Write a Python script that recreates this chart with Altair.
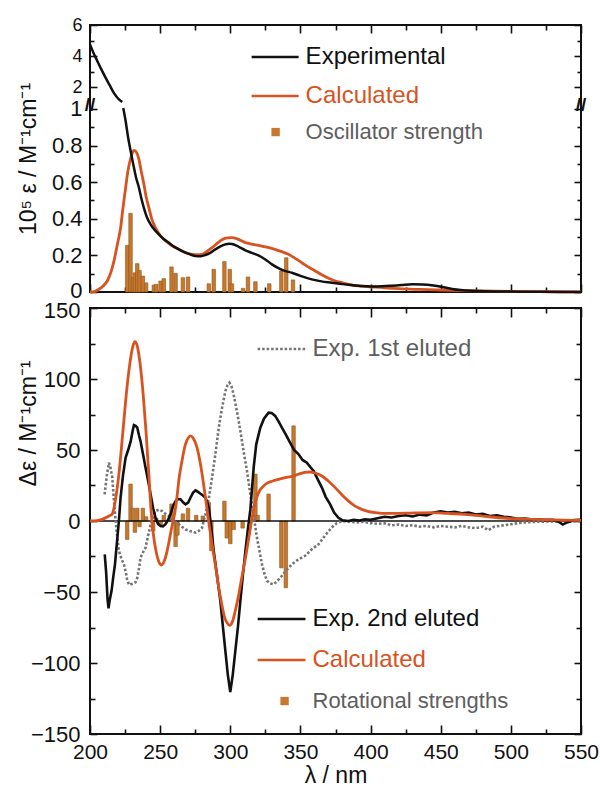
import json
import altair as alt
import pandas as pd

# ---------------- data: top panel (UV absorption) ----------------
uv_exp_hi_wl = [200, 202.5, 205, 208, 211, 214, 217, 220, 223]
uv_exp_hi = [4.75, 4.2, 3.72, 3.15, 2.62, 2.12, 1.62, 1.26, 1.03]

uv_exp_lo_wl = [223.7, 225.4, 227.2, 229, 231.3, 233, 234.9, 236.5, 238.4, 240.5,
                243.2, 246, 249, 252.5, 256, 260.5, 265.7, 270, 275, 279,
                282.3, 286, 289.4, 293, 296.5, 299, 301.2, 304, 307, 310.8,
                315, 320, 325, 329.7, 335, 340, 343.9, 350, 358.1, 365,
                372.4, 380, 386.6, 393, 400, 408, 415, 422, 430, 437,
                445, 452, 458, 466, 477, 490, 505, 520, 535, 550]
uv_exp_lo = [1.005, 0.934, 0.843, 0.77, 0.68, 0.62, 0.57, 0.515, 0.46, 0.41,
             0.37, 0.34, 0.315, 0.29, 0.27, 0.245, 0.224, 0.21, 0.197, 0.196,
             0.202, 0.215, 0.233, 0.249, 0.26, 0.264, 0.262, 0.255, 0.243, 0.228,
             0.215, 0.2, 0.178, 0.151, 0.128, 0.113, 0.105, 0.088, 0.069, 0.058,
             0.051, 0.043, 0.038, 0.033, 0.03, 0.031, 0.034, 0.038, 0.042, 0.041,
             0.035, 0.026, 0.016, 0.009, 0.005, 0.003, 0.002, 0.001, 0.0, 0.0]

uv_calc_wl = [200, 203, 206.4, 209, 212.3, 215, 217.1, 219.5, 221.8, 223.5,
              225.4, 227, 229, 231.3, 233, 234.9, 236.5, 238.4, 240, 242,
              244, 246.7, 250, 253.8, 258, 263.3, 268, 272.8, 276, 279.9,
              283, 287, 291, 294.1, 298, 301.2, 305, 310.8, 315, 320,
              326, 331.9, 336, 341.5, 346, 351, 355.5, 360.5, 365, 370,
              375, 379.5, 385, 391.4, 397, 403.3, 410, 420, 435, 450,
              465, 480, 500, 520, 550]
uv_calc = [0.0, 0.002, 0.015, 0.03, 0.06, 0.11, 0.17, 0.26, 0.35, 0.46,
           0.57, 0.66, 0.73, 0.774, 0.765, 0.725, 0.66, 0.59, 0.52, 0.46,
           0.4, 0.35, 0.31, 0.28, 0.255, 0.233, 0.215, 0.206, 0.204, 0.206,
           0.22, 0.242, 0.268, 0.286, 0.296, 0.297, 0.29, 0.27, 0.262, 0.255,
           0.245, 0.233, 0.222, 0.206, 0.185, 0.16, 0.137, 0.115, 0.095, 0.075,
           0.06, 0.051, 0.04, 0.033, 0.03, 0.027, 0.023, 0.018, 0.014, 0.011,
           0.008, 0.006, 0.003, 0.002, 0.001]

osc_pts = [(226.5, 0.255), (228.9, 0.43), (230.6, 0.078), (232.0, 0.105), (233.7, 0.155),
           (235.3, 0.118), (237.7, 0.087), (240.0, 0.05), (245.5, 0.038), (247.2, 0.042),
           (250.3, 0.06), (252.6, 0.073), (258.1, 0.137), (261.0, 0.102), (266.2, 0.078),
           (269.9, 0.082), (284.7, 0.045), (288.2, 0.124), (295.8, 0.166), (299.6, 0.124),
           (301.2, 0.045), (309.1, 0.02), (312.6, 0.082), (317.9, 0.056), (327.8, 0.045),
           (336.4, 0.115), (339.9, 0.187), (344.7, 0.066)]

# ---------------- data: bottom panel (ECD) ----------------
cd_calc_pts = [(200, 0), (205, 0.3), (208, 1), (211, 2.2), (213.5, 3.5), (215.9, 5), (218, 14),
               (220.6, 33), (223, 58), (225.4, 84.5), (227.5, 104), (229.5, 118), (231, 124.5),
               (232, 126.3), (233.5, 124), (235, 116), (236.5, 104), (238, 88), (240, 62),
               (242, 32), (243.5, 8), (245, -8), (247, -21), (249, -28.5), (251, -31), (253, -28),
               (255, -21), (257, -11), (259, -1), (260.5, 6), (262, 17), (263.5, 30), (265.5, 42),
               (268, 54), (270, 58.5), (271.6, 59.9), (273.5, 58.5), (276.3, 51.6), (278, 44),
               (279.9, 33), (281.5, 22), (283.5, 8), (285, -3), (287, -16.4), (289.5, -32),
               (291.8, -47), (294, -59), (296, -68), (297.7, -71.6), (299.5, -73.5), (301.5, -71),
               (303.6, -63), (306, -52), (307.8, -42), (309.5, -33), (311, -25), (312.5, -16),
               (314, -7), (315.5, 2), (317, 10), (319, 17), (321, 21.5), (322.6, 23.5), (326, 26.5),
               (329.7, 28), (335, 29.5), (339.2, 30.5), (344, 31.5), (348.7, 33), (353, 34.2),
               (357, 34.5), (361, 33.6), (365.3, 31.7), (370, 28), (374.8, 23.5), (379.5, 18.5),
               (384.3, 14), (389, 10.5), (393.7, 8.2), (398, 6.8), (403.3, 5.9), (412.7, 5.3),
               (425, 5.5), (443.6, 5.9), (455, 5.3), (467.3, 4.7), (480, 3.5), (491, 2.3),
               (503, 1.6), (514.7, 1.2), (530, 0.8), (545.5, 0.5), (550, 0.4)]

cd_exp2_pts = [(210.5, -23.5), (211.5, -36), (212.5, -55), (213.2, -61.5), (214, -56), (215.4, -49),
               (216.5, -40), (217.8, -30.5), (219.2, -15), (220.6, 0), (221.8, 16.4), (223.5, 32),
               (225.4, 44.6), (227.2, 50), (229, 56), (230.5, 64), (231.3, 67.5), (232.5, 67),
               (233.7, 65.7), (235, 60), (236, 56.3), (237.8, 47), (239.6, 37.5), (241.5, 28),
               (243.2, 18.8), (245, 9), (246.7, 2.3), (248.5, -2), (250.3, -3.5), (252, -3.8),
               (253.8, -2.3), (255.5, 0.5), (257.4, 4.7), (259, 10), (261, 14), (262.5, 15.5),
               (264.5, 15.3), (266.5, 13), (268.1, 11.7), (270, 13), (271.6, 16.4), (273.5, 20),
               (275.2, 21.6), (277, 20.5), (278.8, 19.2), (280.5, 18), (282.3, 16.4), (283.5, 13.5),
               (284.7, 9.4), (286.5, -5), (288.2, -21), (290.5, -38), (292.9, -56), (294.8, -75),
               (296.5, -91.5), (298.2, -108), (300, -120.5), (301.8, -108), (303.6, -91.5),
               (305.5, -74), (307.2, -56), (309, -38), (310.8, -21), (312.5, -6), (314.3, 8),
               (316.7, 38), (318.5, 54), (321.4, 65.7), (324, 72), (327.3, 76.3), (329.5, 76),
               (332, 74), (334.5, 70), (336.8, 65.7), (339.5, 61), (342.7, 55), (345.5, 50),
               (348.7, 47), (351.5, 43), (354.6, 41), (357, 38), (359.4, 35.2), (362.5, 29),
               (365.3, 23.5), (368, 17), (371.2, 11.7), (374, 6), (377.1, 2.3), (380, 0.5),
               (384, 0), (388, 0.8), (392, 0.3), (396, 1.2), (400, 0.8), (405, 2), (410, 3),
               (415, 2.5), (420, 3.5), (425, 4), (430, 3.2), (435, 4.5), (440, 4), (445, 6),
               (450, 6.8), (455, 6), (460, 6.5), (465, 5.5), (470, 6), (475, 4.5), (480, 5),
               (485, 3.5), (490, 4), (495, 3), (500, 2.5), (505, 1.5), (510, 1.8), (515, 1),
               (520, 1.2), (525, 0.6), (530, 0.8), (534, -0.5), (537, -2.5), (540, -1),
               (545, 0.6), (550, 0.8)]

cd_exp1_pts = [(210.4, 18.8), (212, 32), (213.5, 41), (214.5, 38), (215.9, 30.5), (217, 15),
               (218.3, 0), (219.5, -12), (220.6, -21), (222.5, -27), (224.2, -30.5), (225.5, -36),
               (226.6, -42), (228, -45), (229, -44.6), (231, -44), (232.5, -43), (233.7, -40),
               (235, -33), (236, -25.8), (237.8, -22), (239.6, -18.8), (241.5, -10), (243.2, -2.3),
               (245, 3), (246.7, 7), (249, 8), (251.4, 7), (253.8, 5), (256.2, 3.5), (258, 1),
               (260, 0), (263.3, -2.3), (265.5, -4), (268.1, -5.9), (271, -7), (273, -7.5),
               (275.2, -8.2), (277.5, -7), (279.9, -4.7), (281, 0), (282.3, 4.7), (284.7, 16),
               (287, 30.5), (289.5, 48), (291.8, 65.7), (294, 79), (296.5, 91.5), (298, 95.5),
               (299.4, 97.4), (300.8, 95), (302.4, 89), (304.8, 77), (307.2, 63.4), (309.5, 49),
               (311.9, 35.2), (313.7, 23), (315.4, 11.7), (317.2, 0), (319, -11.7), (320.8, -21),
               (322.6, -30.5), (324.3, -37), (326.1, -42), (328.5, -44), (330.9, -44.6),
               (333.2, -42.5), (335.6, -40), (339.7, -35), (343.9, -30.5), (348.6, -27),
               (353.4, -24.5), (358, -20), (362.9, -16.4), (367.7, -10), (372.4, -4.5), (376, -1.5),
               (379.5, 0), (385, -0.5), (390, -1), (395, -0.5), (400, -1.5), (405, -2), (410, -1.6),
               (415, -3), (420, -2.5), (425, -3.5), (430, -3), (435, -4), (440, -3.5), (445, -4.5),
               (450, -3.5), (455, -4), (460, -4.5), (465, -3.5), (470, -4.5), (475, -5), (480, -4),
               (484, -6.5), (488, -4), (495, -3), (500, -2.3), (505, -1.5), (510, -1), (520, -0.5),
               (530, -0.3), (540, -0.5), (550, 0)]

rot_pts = [(226.5, -13), (228.9, 26), (230.6, 9), (232.0, -8), (233.7, 9), (235.3, -4), (237.7, 9),
           (240.0, 3), (245.0, -7), (247.2, 2), (250.3, -3), (252.6, 4), (258.1, 12), (261.0, -18),
           (262.3, -10), (266.2, 5), (269.9, 9), (275.7, 4), (280.4, 3.5), (284.7, 13), (286.5, -21),
           (295.8, 14), (297.5, -12), (300.0, -16), (302.4, -6), (308.8, -5), (317.9, 33),
           (319.5, 4), (327.3, 19), (336.4, -33), (339.6, -47), (345.1, 67)]

# ---------------- ticks / labels ----------------
x_ticks = list(range(200, 551, 25))
x_major = list(range(200, 551, 50))
uv_lo_ticks = [round(0.1 * i, 4) for i in range(11)]
uv_lo_labels = [0, 0.2, 0.4, 0.6, 0.8, 1.0]
uv_hi_ticks = [2, 3, 4, 5, 6]
uv_hi_labels = [2, 4, 6]
cd_ticks = list(range(-150, 151, 25))
cd_labels = list(range(-150, 151, 50))

# legend entries (data coordinates)
uv_leg_labels = ["Experimental", "Calculated", "Oscillator strength"]
cd_leg_labels = ["Exp. 1st eluted", "Exp. 2nd eluted", "Calculated", "Rotational strengths"]

# ---------------- styling ----------------
BLACK = "#111111"
ORANGE = "#D8531F"
BAR = "#C8782C"
BAR_EDGE = "#8A5520"
GRAY = "#747474"
TXT_GRAY = "#5E5E5E"
FONT = "Liberation Sans"
W, H_TOP, H_BOT = 491, 267, 426

# broken y axis of top panel: lower part linear 0..1, upper part compressed
SPLIT_T = 1.0355
UP_K = 0.0847


def t_up(v):
    return round(SPLIT_T + (v - 1.0) * UP_K, 5)


T_MAX = t_up(6)
T_BREAK = 1.022

xs = alt.Scale(domain=[200, 550], nice=False, zero=False, padding=0)
yts = alt.Scale(domain=[0, T_MAX], nice=False, zero=False, padding=0)
ycs = alt.Scale(domain=[-150, 150], nice=False, zero=False, padding=0)


def tick_axis(orient, offset, values, major, big, small):
    test = "indexof(%s, datum.value) >= 0" % json.dumps(major)
    return alt.Axis(orient=orient, offset=offset, values=values, labels=False, domain=False,
                    grid=False, ticks=True, tickColor=BLACK, tickWidth=1.6, title=None,
                    tickSize={"condition": {"test": test, "value": big}, "value": small})


uv_tick_t = uv_lo_ticks + [t_up(v) for v in uv_hi_ticks]
uv_major_t = uv_lo_labels + [t_up(v) for v in uv_hi_labels]

# ---------------- frames ----------------
df_uv_exp = pd.DataFrame({
    "wl": uv_exp_hi_wl + uv_exp_lo_wl,
    "t": [t_up(v) for v in uv_exp_hi] + list(uv_exp_lo),
    "seg": ["hi"] * len(uv_exp_hi) + ["lo"] * len(uv_exp_lo),
})
df_uv_calc = pd.DataFrame({"wl": uv_calc_wl, "v": uv_calc})
df_osc = pd.DataFrame(osc_pts, columns=["wl", "f"])
df_cd_calc = pd.DataFrame(cd_calc_pts, columns=["wl", "d"])
df_cd_exp2 = pd.DataFrame(cd_exp2_pts, columns=["wl", "d"])
df_cd_exp1 = pd.DataFrame(cd_exp1_pts, columns=["wl", "d"])
df_rot = pd.DataFrame(rot_pts, columns=["wl", "r"])

# ---------------- top panel ----------------
uv_label_expr = ("datum.value > %g ? format((datum.value - %g) / %g + 1, '.0f') : "
                 "format(datum.value, '.1~f')" % (SPLIT_T - 0.01, SPLIT_T, UP_K))
uv_label_axis = alt.Axis(orient="left", values=uv_major_t, labelExpr=uv_label_expr, ticks=False,
                         tickSize=0, domain=False, grid=False, labelPadding=8, labelOverlap=False,
                         labelFontSize={"condition": {"test": "datum.value > 1.02", "value": 18},
                                        "value": 22},
                         labelOffset={"condition": {"test": "datum.value == 0", "value": -2},
                                      "value": 0},
                         title="10⁵ ε / M⁻¹cm⁻¹", titleX=-50)

osc_bars = alt.Chart(df_osc).mark_bar(size=3.5, color=BAR, stroke=BAR_EDGE, strokeWidth=0.6).encode(
    x=alt.X("wl:Q", scale=xs, axis=tick_axis("bottom", -H_TOP, x_ticks, x_major, 8, 5)),
    y=alt.Y("f:Q", scale=yts, axis=tick_axis("right", -W, uv_tick_t, uv_major_t, 7, 4)),
    y2=alt.datum(0),
)
uv_calc_line = alt.Chart(df_uv_calc).mark_line(color=ORANGE, strokeWidth=2.8,
                                               interpolate="monotone").encode(
    x=alt.X("wl:Q", scale=xs, axis=tick_axis("top", -H_TOP, x_ticks, x_major, 8, 5)),
    y=alt.Y("v:Q", scale=yts, axis=tick_axis("left", -W, uv_tick_t, uv_major_t, 7, 4)),
)
uv_exp_line = alt.Chart(df_uv_exp).mark_line(color=BLACK, strokeWidth=2.5,
                                             interpolate="monotone").encode(
    x=alt.X("wl:Q", scale=xs, axis=None),
    y=alt.Y("t:Q", scale=yts, axis=uv_label_axis),
    detail="seg:N",
)

uv_leg_lines = alt.Chart(pd.DataFrame({
    "x": [315.2, 315.2], "x2": [348.7, 348.7], "y": [1.284, 1.071], "c": [BLACK, ORANGE]
})).mark_rule(strokeWidth=2.6).encode(
    x=alt.X("x:Q", scale=xs, axis=None), x2="x2:Q",
    y=alt.Y("y:Q", scale=yts, axis=None), color=alt.Color("c:N", scale=None))
uv_leg_text = alt.Chart(pd.DataFrame({
    "x": [353.7] * 3, "y": [1.284, 1.071, 0.874], "label": uv_leg_labels,
    "c": [BLACK, ORANGE, TXT_GRAY], "fs": [24, 24, 22]
})).mark_text(align="left", baseline="middle").encode(
    x=alt.X("x:Q", scale=xs, axis=None), y=alt.Y("y:Q", scale=yts, axis=None),
    text="label:N", color=alt.Color("c:N", scale=None), size=alt.Size("fs:Q", scale=None))
uv_leg_sq = alt.Chart(pd.DataFrame({"x": [332.3], "y": [0.874]})).mark_square(
    size=70, color=BAR, opacity=1).encode(
    x=alt.X("x:Q", scale=xs, axis=None), y=alt.Y("y:Q", scale=yts, axis=None))
breaks = alt.Chart(pd.DataFrame({"x": [200, 550], "y": [T_BREAK, T_BREAK]})).mark_text(
    text="//", fontSize=19, fontWeight="bold", color=BLACK).encode(
    x=alt.X("x:Q", scale=xs, axis=None), y=alt.Y("y:Q", scale=yts, axis=None))

top = alt.layer(osc_bars, uv_calc_line, uv_exp_line, uv_leg_lines, uv_leg_text, uv_leg_sq,
                breaks).resolve_axis(x="independent", y="independent").properties(
    width=W, height=H_TOP)

# ---------------- bottom panel ----------------
cd_label_axis = alt.Axis(orient="left", values=cd_labels, ticks=False, tickSize=0, domain=False,
                         grid=False, labelPadding=10, labelOverlap=False, labelFontSize=22,
                         labelOffset={"condition": {"test": "datum.value == 150", "value": 2},
                                      "value": 0},
                         title="Δε / M⁻¹cm⁻¹", titleX=-50, titleY=115)
x_label_axis = alt.Axis(orient="bottom", values=x_major, ticks=False, tickSize=0, domain=False,
                        grid=False, labelPadding=7, labelFlush=False, labelOverlap=False,
                        labelFontSize=21, title="λ / nm", titlePadding=2)

rot_bars = alt.Chart(df_rot).mark_bar(size=3.5, color=BAR, stroke=BAR_EDGE, strokeWidth=0.6).encode(
    x=alt.X("wl:Q", scale=xs, axis=tick_axis("bottom", -H_BOT, x_ticks, x_major, 9, 5)),
    y=alt.Y("r:Q", scale=ycs, axis=tick_axis("right", -W, cd_ticks, cd_labels, 7, 5)),
    y2=alt.datum(0),
)
zero_line = alt.Chart(pd.DataFrame({"z": [0]})).mark_rule(color=BLACK, strokeWidth=1.6).encode(
    y=alt.Y("z:Q", scale=ycs, axis=None))
cd_exp1_line = alt.Chart(df_cd_exp1).mark_line(color=GRAY, strokeWidth=2.6,
                                               strokeDash=[2.5, 2]).encode(
    x=alt.X("wl:Q", scale=xs, axis=tick_axis("top", -H_BOT, x_ticks, x_major, 9, 5)),
    y=alt.Y("d:Q", scale=ycs, axis=tick_axis("left", -W, cd_ticks, cd_labels, 7, 5)),
)
cd_exp2_line = alt.Chart(df_cd_exp2).mark_line(color=BLACK, strokeWidth=2.6).encode(
    x=alt.X("wl:Q", scale=xs, axis=x_label_axis),
    y=alt.Y("d:Q", scale=ycs, axis=cd_label_axis),
)
cd_calc_line = alt.Chart(df_cd_calc).mark_line(color=ORANGE, strokeWidth=2.8,
                                               interpolate="monotone").encode(
    x=alt.X("wl:Q", scale=xs, axis=None),
    y=alt.Y("d:Q", scale=ycs, axis=None),
)

cd_leg_lines = alt.Chart(pd.DataFrame({
    "x": [319.5, 319.5], "x2": [353.6, 353.6], "y": [-69, -97.9], "c": [BLACK, ORANGE]
})).mark_rule(strokeWidth=2.6).encode(
    x=alt.X("x:Q", scale=xs, axis=None), x2="x2:Q",
    y=alt.Y("y:Q", scale=ycs, axis=None), color=alt.Color("c:N", scale=None))
cd_leg_dash = alt.Chart(pd.DataFrame({"x": [319.5], "x2": [353.6], "y": [121.1]})).mark_rule(
    strokeWidth=2.4, color=GRAY, strokeDash=[2.5, 2]).encode(
    x=alt.X("x:Q", scale=xs, axis=None), x2="x2:Q", y=alt.Y("y:Q", scale=ycs, axis=None))
cd_leg_text = alt.Chart(pd.DataFrame({
    "x": [358.6] * 4, "y": [121.1, -69, -97.9, -126.8], "label": cd_leg_labels,
    "c": [TXT_GRAY, BLACK, ORANGE, TXT_GRAY], "fs": [24, 24, 24, 22]
})).mark_text(align="left", baseline="middle").encode(
    x=alt.X("x:Q", scale=xs, axis=None), y=alt.Y("y:Q", scale=ycs, axis=None),
    text="label:N", color=alt.Color("c:N", scale=None), size=alt.Size("fs:Q", scale=None))
cd_leg_sq = alt.Chart(pd.DataFrame({"x": [338.7], "y": [-126.8]})).mark_square(
    size=70, color=BAR, opacity=1).encode(
    x=alt.X("x:Q", scale=xs, axis=None), y=alt.Y("y:Q", scale=ycs, axis=None))

bottom = alt.layer(rot_bars, zero_line, cd_exp1_line, cd_exp2_line, cd_calc_line, cd_leg_lines,
                   cd_leg_dash, cd_leg_text, cd_leg_sq).resolve_axis(
    x="independent", y="independent").properties(width=W, height=H_BOT)

chart = alt.vconcat(top, bottom, spacing=16, bounds="flush").properties(
    padding={"left": 15, "top": 15, "right": 0, "bottom": 0}
).configure(font=FONT).configure_view(stroke=BLACK, strokeWidth=2).configure_axis(
    labelFont=FONT, titleFont=FONT, labelColor=BLACK, titleColor=BLACK,
    titleFontWeight="normal", titleFontSize=23)

chart.save("out.html", embed_options={"renderer": "svg", "actions": False})
